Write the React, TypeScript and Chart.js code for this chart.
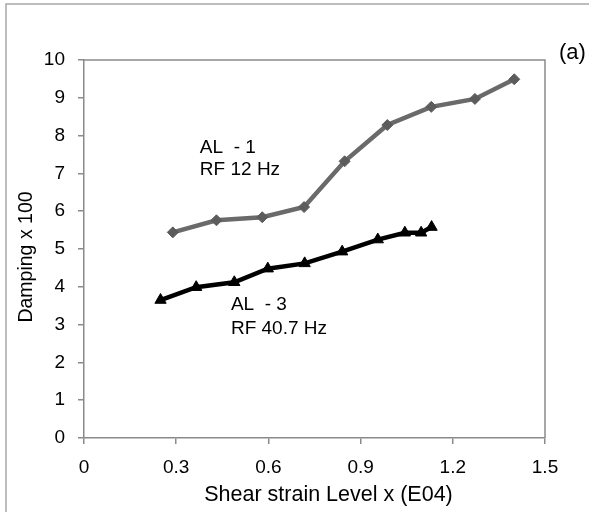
import React, { useEffect, useRef } from "react";
import { Chart, registerables } from "chart.js";

Chart.register(...registerables);

const AL1_X = [0.289, 0.431, 0.58, 0.716, 0.848, 0.987, 1.13, 1.272, 1.4];
const AL1_Y = [5.44, 5.76, 5.84, 6.11, 7.32, 8.28, 8.76, 8.97, 9.49];
const AL3_X = [0.249, 0.365, 0.489, 0.598, 0.718, 0.84, 0.956, 1.044, 1.097, 1.131];
const AL3_Y = [3.65, 3.99, 4.12, 4.48, 4.62, 4.93, 5.25, 5.43, 5.43, 5.58];

const X_TITLE = "Shear strain Level x (E04)";
const Y_TITLE = "Damping x 100";
const PANEL_LABEL = "(a)";
const NOTES = [
  { x: 0.377, y: 7.54, text: "AL  - 1" },
  { x: 0.377, y: 6.95, text: "RF 12 Hz" },
  { x: 0.478, y: 3.38, text: "AL  - 3" },
  { x: 0.478, y: 2.76, text: "RF 40.7 Hz" },
];

const FONT = "'Liberation Sans', Arial, Helvetica, sans-serif";
const AXIS_GRAY = "#8a8a8a";

const decorPlugin = {
  id: "decor",
  beforeDraw(chart: any) {
    const ctx = chart.ctx;
    ctx.save();
    ctx.strokeStyle = "#a8a8a8";
    ctx.lineWidth = 1.5;
    ctx.beginPath();
    ctx.moveTo(6, 512);
    ctx.lineTo(6, 4);
    ctx.lineTo(589, 4);
    ctx.stroke();
    const a = chart.chartArea;
    ctx.strokeStyle = AXIS_GRAY;
    ctx.lineWidth = 1.5;
    ctx.beginPath();
    ctx.moveTo(a.left, a.top);
    ctx.lineTo(a.right, a.top);
    ctx.lineTo(a.right, a.bottom);
    ctx.stroke();
    ctx.restore();
  },
  afterDraw(chart: any) {
    const ctx = chart.ctx;
    const xs = chart.scales.x;
    const ys = chart.scales.y;
    const a = chart.chartArea;
    ctx.save();
    ctx.fillStyle = "#000";
    ctx.font = `21.5px ${FONT}`;
    ctx.textAlign = "center";
    ctx.textBaseline = "middle";
    ctx.fillText(X_TITLE, (a.left + a.right) / 2 + 14, 495);
    ctx.save();
    ctx.font = `19.5px ${FONT}`;
    ctx.translate(27, (a.top + a.bottom) / 2 + 8);
    ctx.rotate(-Math.PI / 2);
    ctx.fillText(Y_TITLE, 0, 0);
    ctx.restore();
    ctx.font = `19px ${FONT}`;
    ctx.textAlign = "left";
    ctx.textBaseline = "alphabetic";
    for (const n of NOTES) {
      ctx.fillText(n.text, xs.getPixelForValue(n.x), ys.getPixelForValue(n.y));
    }
    ctx.font = `22px ${FONT}`;
    ctx.fillText(PANEL_LABEL, a.right + 14, 59);
    ctx.restore();
  },
};

export default function App() {
  const ref = useRef<HTMLCanvasElement>(null);
  useEffect(() => {
    if (!ref.current) return;
    const tickFont = { family: FONT, size: 19 };
    const chart = new Chart(ref.current, {
      type: "scatter",
      data: {
        datasets: [
          {
            label: "AL-1",
            data: AL1_X.map((x, i) => ({ x, y: AL1_Y[i] })),
            showLine: true,
            borderColor: "#6a6a6a",
            borderWidth: 4.5,
            pointStyle: "rectRot",
            pointRadius: 5.5,
            pointBackgroundColor: "#5c5c5c",
            pointBorderColor: "#5c5c5c",
            pointBorderWidth: 1,
          },
          {
            label: "AL-3",
            data: AL3_X.map((x, i) => ({ x, y: AL3_Y[i] })),
            showLine: true,
            borderColor: "#000",
            borderWidth: 4.5,
            pointStyle: "triangle",
            pointRadius: 6.5,
            pointBackgroundColor: "#000",
            pointBorderColor: "#000",
            pointBorderWidth: 1,
          },
        ],
      },
      options: {
        animation: false,
        responsive: false,
        layout: { padding: { top: 60, right: 44, left: 0, bottom: 0 } },
        plugins: { legend: { display: false }, tooltip: { enabled: false } },
        scales: {
          x: {
            type: "linear",
            min: 0,
            max: 1.5,
            afterFit: (s: any) => {
              s.height = 74;
            },
            ticks: {
              stepSize: 0.3,
              color: "#000",
              font: tickFont,
              padding: 12,
              callback: (v: any) => (Math.abs(v) < 1e-9 ? "0" : Number(v).toFixed(1)),
            },
            grid: { drawOnChartArea: false, drawTicks: true, tickLength: 6, color: AXIS_GRAY, lineWidth: 1.5 },
            border: { display: true, color: AXIS_GRAY, width: 1.5 },
          },
          y: {
            min: 0,
            max: 10,
            afterFit: (s: any) => {
              s.width = 84;
            },
            ticks: { stepSize: 1, color: "#000", font: tickFont, padding: 13 },
            grid: { drawOnChartArea: false, drawTicks: true, tickLength: 6, color: AXIS_GRAY, lineWidth: 1.5 },
            border: { display: true, color: AXIS_GRAY, width: 1.5 },
          },
        },
      },
      plugins: [decorPlugin],
    });
    return () => chart.destroy();
  }, []);
  return (
    <div style={{ position: "fixed", left: 0, top: 0, width: 589, height: 512, background: "#fff" }}>
      <canvas ref={ref} width={589} height={512} style={{ display: "block" }} />
    </div>
  );
}
